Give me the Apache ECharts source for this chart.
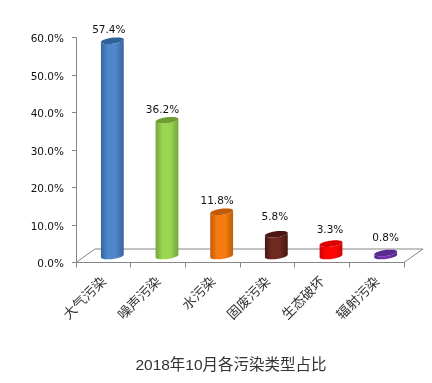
<!DOCTYPE html>
<html><head><meta charset="utf-8">
<style>html,body{margin:0;padding:0;background:#fff}#c{width:432px;height:383px}</style>
<script src="https://cdn.jsdelivr.net/npm/echarts@6/dist/echarts.min.js"></script>
</head><body><div id="c"></div>
<script>
const categories = ['大气污染','噪声污染','水污染','固废污染','生态破坏','辐射污染'];
const shares = [57.4,36.2,11.8,5.8,3.3,0.8];
const chartTitle = '2018年10月各污染类型占比';
const yTicks = [0,10,20,30,40,50,60];

// Styling and 3D projection, separate from the data
const palette = [
  {edge:'#34659c',mid:'#5087cb',top:'#2f6296'},
  {edge:'#76a43a',mid:'#9ad650',top:'#6f9e30'},
  {edge:'#c05c08',mid:'#f67c10',top:'#c05c08'},
  {edge:'#481612',mid:'#6e2a1f',top:'#4a1712'},
  {edge:'#d00404',mid:'#ff0606',top:'#d80000'},
  {edge:'#4f2388',mid:'#7431b0',top:'#5a2a90'}
];
const labelLift = [10.5,10,10,17,13.5,15];
const labelShift = [-3.5,-4.5,-4.5,-1.5,-1,0];
const depth = {x:19,y:-13.5};
const barOff = {x:9,y:-6.5};
const rx = 11.5, ry = 3, tilt = -0.13;

function ell(cx,cy,a0,a1,n){
  const pts=[];
  for(let i=0;i<=n;i++){
    const a=a0+(a1-a0)*i/n, ex=rx*Math.cos(a), ey=ry*Math.sin(a);
    pts.push([cx+ex*Math.cos(tilt)-ey*Math.sin(tilt), cy+ex*Math.sin(tilt)+ey*Math.cos(tilt)]);
  }
  return pts;
}
function renderBar(params,api){
  const i=params.dataIndex, v=api.value(1);
  const p=api.coord([api.value(0),v]), b=api.coord([api.value(0),0]);
  const cx=p[0]+barOff.x, ty=p[1]+barOff.y, by=b[1]+barOff.y;
  const c=palette[i];
  const body=ell(cx,by,0,Math.PI,24).concat(ell(cx,ty,Math.PI,0,24));
  const grad=new echarts.graphic.LinearGradient(0,0,1,0,[
    {offset:0,color:c.edge},{offset:0.3,color:c.mid},{offset:0.65,color:c.mid},{offset:1,color:c.edge}]);
  return {type:'group',children:[
    {type:'polygon',shape:{points:body},style:{fill:grad}},
    {type:'polygon',shape:{points:ell(cx,ty,0,2*Math.PI,48)},style:{fill:c.top}},
    {type:'text',x:cx+labelShift[i],y:ty-labelLift[i],style:{
      text:v.toFixed(1)+'%',fill:'#111',font:'10.5px "DejaVu Sans"',align:'center',verticalAlign:'middle'}}
  ]};
}
function renderFloor(params){
  const r=params.coordSys, x0=r.x, x1=r.x+r.width, y=r.y+r.height;
  const ln={stroke:'#868686',lineWidth:1,fill:null};
  return {type:'group',silent:true,children:[
    {type:'polyline',shape:{points:[[x0,y],[x0+depth.x,y+depth.y],[x1+depth.x,y+depth.y],[x1,y]]},style:ln}
  ]};
}
const chart=echarts.init(document.getElementById('c'),null,{renderer:'canvas'});
chart.setOption({
  animation:false,backgroundColor:'#fff',
  title:{text:chartTitle,left:226,top:353,textAlign:'center',
    textStyle:{fontSize:15.5,fontWeight:'normal',color:'#333',fontFamily:'"Liberation Sans","Noto Sans CJK SC"'}},
  grid:{left:76,right:28,top:37.5,bottom:120.5,containLabel:false},
  xAxis:{type:'category',data:categories,
    axisLine:{lineStyle:{color:'#868686'}},
    axisTick:{show:true,alignWithLabel:false,length:5,lineStyle:{color:'#868686'}},
    axisLabel:{rotate:45,interval:0,margin:16,fontSize:13.5,color:'#333',fontFamily:'"Noto Sans CJK SC"'},
    splitLine:{show:false}},
  yAxis:{type:'value',min:yTicks[0],max:yTicks[yTicks.length-1],interval:10,
    axisLine:{show:true,lineStyle:{color:'#868686'}},
    axisTick:{show:true,length:4,lineStyle:{color:'#868686'}},
    axisLabel:{margin:12,color:'#111',
      rich:{t:{fontSize:10.5,color:'#111',fontFamily:'"DejaVu Sans"',padding:[4,0,0,0]}},
      formatter:v=>'{t|'+v.toFixed(1)+'%}'},
    splitLine:{show:false}},
  series:[
    {type:'custom',z:1,renderItem:renderFloor,data:[0],clip:false,silent:true,encode:{x:0,y:1}},
    {type:'custom',z:2,renderItem:renderBar,clip:false,silent:true,encode:{x:0,y:1},
     data:shares.map((v,i)=>[i,v])}
  ]
});
</script></body></html>
